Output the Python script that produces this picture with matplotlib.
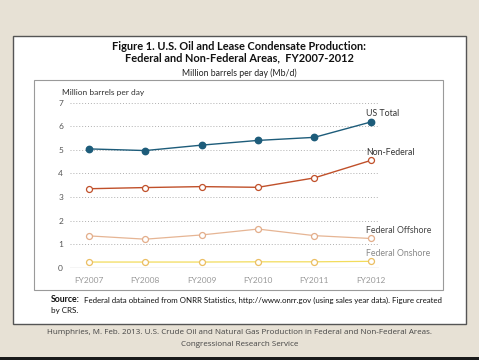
import matplotlib.pyplot as plt
from matplotlib.patches import Rectangle

years = ['FY2007', 'FY2008', 'FY2009', 'FY2010', 'FY2011', 'FY2012']
us_total = [5.04, 4.97, 5.20, 5.40, 5.53, 6.18]
non_federal = [3.35, 3.40, 3.44, 3.41, 3.81, 4.55]
fed_offshore = [1.35, 1.21, 1.39, 1.64, 1.36, 1.24]
fed_onshore = [0.24, 0.24, 0.24, 0.25, 0.25, 0.27]
yticks = [0, 1, 2, 3, 4, 5, 6, 7]

W, H = 479, 360
plt.rcParams['font.family'] = ['Lato', 'DejaVu Sans']

fig = plt.figure(figsize=(W / 100, H / 100), dpi=100)
fig.patch.set_facecolor('#e7e1d5')


def fx(px):
    return px / W


def fy(py):
    return 1 - py / H


# dark strip at the bottom of the slide
fig.patches.append(Rectangle((0, 0), 1, fy(357), transform=fig.transFigure,
                             facecolor='#1a1a1a', edgecolor='none', zorder=-2))
# white figure panel and inner chart frame
fig.patches.append(Rectangle((fx(13), fy(324)), fx(453), 288 / H,
                             transform=fig.transFigure, facecolor='white',
                             edgecolor='#555555', linewidth=1.0, zorder=-2))
fig.patches.append(Rectangle((fx(34), fy(290)), fx(409), 210 / H,
                             transform=fig.transFigure, facecolor='none',
                             edgecolor='#9a9a9a', linewidth=0.8, zorder=-1))

ax = fig.add_axes([fx(70), fy(267.7), fx(309), 165 / H])
ax.set_zorder(2)
ax.set_facecolor('none')
x = list(range(len(years)))
ax.set_xlim(-0.337, 5.147)
ax.set_ylim(0, 7)

for v in yticks[1:]:
    ax.axhline(v, color='#b0b0b0', linestyle=(0, (1, 2)), linewidth=0.7, zorder=1)
ax.axhline(0, color='#cccccc', linewidth=1.0, zorder=1)

ax.plot(x, fed_onshore, color='#f2dc5c', linewidth=0.9, marker='o',
        markersize=4.3, markerfacecolor='white', markeredgecolor='#ebbe62',
        markeredgewidth=0.9, clip_on=False, zorder=3)
ax.plot(x, fed_offshore, color='#e6b594', linewidth=0.9, marker='o',
        markersize=4.3, markerfacecolor='white', markeredgecolor='#e3ad8a',
        markeredgewidth=0.9, clip_on=False, zorder=3)
ax.plot(x, non_federal, color='#c0502a', linewidth=1.0, marker='o',
        markersize=4.3, markerfacecolor='white', markeredgecolor='#c0502a',
        markeredgewidth=0.9, clip_on=False, zorder=3)
ax.plot(x, us_total, color='#1d5c7a', linewidth=1.0, marker='o',
        markersize=4.6, markerfacecolor='#1d5c7a', markeredgecolor='#1d5c7a',
        clip_on=False, zorder=3)

for s in ax.spines.values():
    s.set_visible(False)
ax.set_yticks(yticks)
ax.set_yticklabels([str(v) for v in yticks], fontsize=6, color='#555555')
ax.set_xticks(x)
ax.set_xticklabels(years, fontsize=6, color='#999999')
ax.tick_params(length=0, pad=4)
ax.tick_params(axis='y', pad=5)
ax.tick_params(axis='x', pad=7)

# series labels
fig.text(fx(366), fy(113), 'US Total', fontsize=6.3, color='#333333', va='center')
fig.text(fx(366), fy(152.7), 'Non-Federal', fontsize=6.3, color='#333333', va='center')
fig.text(fx(366), fy(230.7), 'Federal Offshore', fontsize=6.3, color='#444444', va='center')
fig.text(fx(366), fy(253.7), 'Federal Onshore', fontsize=6.3, color='#888888', va='center')
fig.text(fx(62), fy(92), 'Million barrels per day', fontsize=6, color='#333333', va='center')

# titles
fig.text(0.5, fy(46), 'Figure 1. U.S. Oil and Lease Condensate Production:',
         fontsize=7.9, fontweight='bold', color='#111111', ha='center', va='center')
fig.text(0.5, fy(57.5), 'Federal and Non-Federal Areas,  FY2007-2012',
         fontsize=7.9, fontweight='bold', color='#111111', ha='center', va='center')
fig.text(0.5, fy(73), 'Million barrels per day (Mb/d)',
         fontsize=6.3, color='#222222', ha='center', va='center')

# source note
fig.text(fx(51), fy(300), 'Source:', fontsize=6.3, fontweight='bold',
         color='#111111', va='center')
fig.text(fx(84), fy(300),
         'Federal data obtained from ONRR Statistics, http://www.onrr.gov '
         '(using sales year data). Figure created',
         fontsize=5.65, color='#111111', va='center')
fig.text(fx(51), fy(311), 'by CRS.', fontsize=5.8, color='#111111', va='center')

# citation
fig.text(0.5, fy(332), 'Humphries, M. Feb. 2013. U.S. Crude Oil and Natural Gas '
         'Production in Federal and Non-Federal Areas.',
         fontsize=5.8, color='#444444', ha='center', va='center', family='Open Sans')
fig.text(0.5, fy(344), 'Congressional Research Service',
         fontsize=5.8, color='#444444', ha='center', va='center', family='Open Sans')

fig.savefig('out.png', dpi=100, facecolor=fig.get_facecolor())
